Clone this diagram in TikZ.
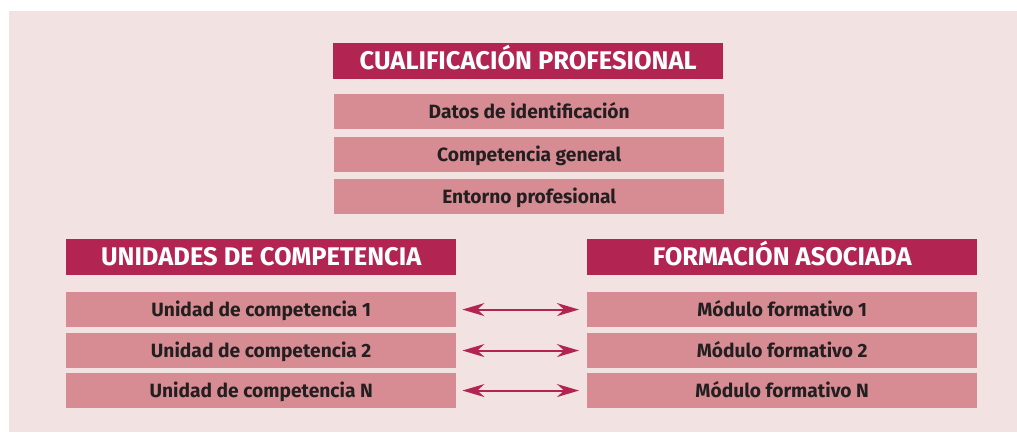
\documentclass[tikz,border=0pt]{standalone}
\usepackage{fontspec}
\setmainfont{Fira Sans}
\usetikzlibrary{arrows.meta}
\definecolor{bgpink}{HTML}{F3E2E2}
\definecolor{crimson}{HTML}{B22553}
\definecolor{rowpink}{HTML}{D68C92}
\definecolor{txt}{HTML}{231F20}
\begin{document}
\begin{tikzpicture}[x=1pt,y=-1pt,
  headbox/.style={fill=crimson, text=white, font=\bfseries\fontsize{25.5}{28}\selectfont,
    minimum width=390pt, minimum height=36pt, inner sep=0pt, text height=17.5pt, text depth=0pt, anchor=north west},
  rowbox/.style={fill=rowpink, text=txt, font=\bfseries\fontsize{19.2}{22}\selectfont,
    minimum width=390pt, minimum height=34.7pt, inner sep=0pt, text height=13.2pt, text depth=0pt, anchor=north west},
  link/.style={draw=crimson, line width=2pt, shorten <=6pt, shorten >=8pt,
    {Stealth[length=22pt,width=13pt,inset=7pt]}-{Stealth[length=22pt,width=13pt,inset=7pt]}}]
\useasboundingbox (0,0) rectangle (1017,432);
\fill[bgpink] (9,11) rectangle (1017,432);
\node[headbox] (cp) at (333,43) {CUALIFICACIÓN PROFESIONAL};
\node[rowbox] (d1) at (334,94) {Datos de identificación};
\node[rowbox] (d2) at (334,137) {Competencia general};
\node[rowbox] (d3) at (334,179) {Entorno profesional};
\node[headbox] (uc) at (66,239) {UNIDADES DE COMPETENCIA};
\node[rowbox] (u1) at (66,292) {Unidad de competencia 1};
\node[rowbox] (u2) at (66,333) {Unidad de competencia 2};
\node[rowbox] (u3) at (66,373) {Unidad de competencia N};
\node[headbox] (fa) at (587,239) {FORMACIÓN ASOCIADA};
\node[rowbox] (m1) at (587,292) {Módulo formativo 1};
\node[rowbox] (m2) at (587,333) {Módulo formativo 2};
\node[rowbox] (m3) at (587,373) {Módulo formativo N};
\draw[link] (u1.east) -- (m1.west);
\draw[link] (u2.east) -- (m2.west);
\draw[link] (u3.east) -- (m3.west);
\end{tikzpicture}
\end{document}
